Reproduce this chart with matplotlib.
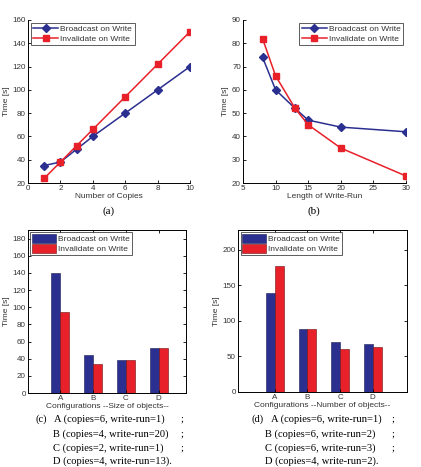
import matplotlib
matplotlib.use("Agg")
import matplotlib.pyplot as plt
import numpy as np

# ---- data ----
copies = [1, 2, 3, 4, 6, 8, 10]
bcast_copies = [35, 38, 49, 60, 80, 100, 120]
inval_copies = [24, 38, 52, 66, 94, 122, 150]

writerun = [8, 10, 13, 15, 20, 30]
bcast_wr = [74, 60, 52, 47, 44, 42]
inval_wr = [82, 66, 52, 45, 35, 23]

configs = ["A", "B", "C", "D"]
bcast_size = [140, 44, 38, 52]
inval_size = [94, 34, 38, 52]
bcast_num = [140, 89, 71, 67]
inval_num = [178, 89, 60, 63]

series_names = ["Broadcast on Write", "Invalidate on Write"]
captions_c = ["A (copies=6, write-run=1)", "B (copies=4, write-run=20)",
              "C (copies=2, write-run=1)", "D (copies=4, write-run=13)."]
captions_d = ["A (copies=6, write-run=1)", "B (copies=6, write-run=2)",
              "C (copies=6, write-run=3)", "D (copies=4, write-run=2)."]

BLUE = "#2b2f8f"
RED = "#e8202a"
SANS = "Liberation Sans"
SERIF = "Liberation Serif"
W, H = 421, 467
TXT = "#333333"

fig = plt.figure(figsize=(W / 100, H / 100), dpi=100)
fig.patch.set_facecolor("white")


def add_ax(l, r, t, b):
    return fig.add_axes([l / W, (H - b) / H, (r - l) / W, (b - t) / H])


TICK_FS = 5.8
LAB_FS = 6.0
LEG_FS = 6.0


def style_ticks(ax):
    for lab in ax.get_xticklabels() + ax.get_yticklabels():
        lab.set_fontfamily(SANS)
        lab.set_fontsize(TICK_FS)
        lab.set_color(TXT)


def style_legend(leg):
    leg.get_frame().set_edgecolor(TXT)
    leg.get_frame().set_linewidth(0.7)
    for t in leg.get_texts():
        t.set_color(TXT)


# (a)
axa = add_ax(28, 190, 20, 183)
axa.plot(copies, bcast_copies, color=BLUE, marker="D", ms=4.5, lw=1.1, label=series_names[0])
axa.plot(copies, inval_copies, color=RED, marker="s", ms=4.5, lw=1.1, label=series_names[1])
axa.set_xlim(0, 10)
axa.set_ylim(20, 160)
axa.set_xticks([0, 2, 4, 6, 8, 10])
axa.set_yticks(range(20, 161, 20))
axa.set_xlabel("Number of Copies", fontfamily=SANS, fontsize=LAB_FS, labelpad=1, color=TXT)
axa.set_ylabel("Time [s]", fontfamily=SANS, fontsize=LAB_FS, labelpad=2, color=TXT)

# (b)
axb = add_ax(243, 406, 20, 183)
axb.plot(writerun, bcast_wr, color=BLUE, marker="D", ms=4.5, lw=1.1, label=series_names[0])
axb.plot(writerun, inval_wr, color=RED, marker="s", ms=4.5, lw=1.1, label=series_names[1])
axb.set_xlim(5, 30)
axb.set_ylim(20, 90)
axb.set_xticks([5, 10, 15, 20, 25, 30])
axb.set_yticks(range(20, 91, 10))
axb.set_xlabel("Length of Write-Run", fontfamily=SANS, fontsize=LAB_FS, labelpad=1, color=TXT)
axb.set_ylabel("Time [s]", fontfamily=SANS, fontsize=LAB_FS, labelpad=2, color=TXT)

for ax, loc in ((axa, "upper left"), (axb, "upper right")):
    for s in ("top", "right"):
        ax.spines[s].set_visible(False)
    for s in ("left", "bottom"):
        ax.spines[s].set_linewidth(0.7)
    ax.tick_params(direction="in", length=2.5, width=0.6, pad=1.5)
    style_ticks(ax)
    leg = ax.legend(loc=loc, prop={"family": SANS, "size": LEG_FS}, frameon=True,
                    fancybox=False, borderpad=0.3, handlelength=3.0, handletextpad=0.25,
                    labelspacing=0.2, borderaxespad=0.35)
    style_legend(leg)

fig.text(109 / W, 1 - 211 / H, "(a)", fontfamily=SERIF, fontsize=8, ha="center", va="center")
fig.text(314 / W, 1 - 211 / H, "(b)", fontfamily=SERIF, fontsize=8, ha="center", va="center")

# (c) and (d)
axc = add_ax(28, 186, 230, 393)
axd = add_ax(238, 407, 230, 392)
x = np.arange(1, len(configs) + 1)
bw = 0.27
for ax, b, r, ylim, yt, xl, xlab in (
        (axc, bcast_size, inval_size, 190, range(0, 181, 20), (0.02, 4.83),
         "Configurations --Size of objects--"),
        (axd, bcast_num, inval_num, 228, range(0, 201, 50), (-0.13, 5.05),
         "Configurations --Number of objects--")):
    ax.bar(x - bw / 2, b, bw, color=BLUE, edgecolor="#1a1a50", lw=0.4, label=series_names[0])
    ax.bar(x + bw / 2, r, bw, color=RED, edgecolor="#6a1010", lw=0.4, label=series_names[1])
    ax.set_ylim(0, ylim)
    ax.set_xlim(*xl)
    ax.set_yticks(list(yt))
    ax.set_xticks(x)
    ax.set_xticklabels(configs)
    ax.tick_params(direction="in", length=2.5, width=0.6, pad=1.5, right=True, top=True)
    for s in ax.spines.values():
        s.set_linewidth(0.7)
    style_ticks(ax)
    ax.set_xlabel(xlab, fontfamily=SANS, fontsize=LAB_FS, labelpad=0.5, color=TXT)
    ax.set_ylabel("Time [s]", fontfamily=SANS, fontsize=LAB_FS, labelpad=2, color=TXT)
    leg = ax.legend(loc="upper left", prop={"family": SANS, "size": LEG_FS}, frameon=True,
                    fancybox=False, borderpad=0.2, handlelength=2.9, handleheight=1.2,
                    handletextpad=0.25, labelspacing=0.1, borderaxespad=0.3)
    style_legend(leg)

CAP_FS = 7.6
line_y = [419, 434, 448, 461]
fig.text(35 / W, 1 - line_y[0] / H, "(c)", fontfamily=SERIF, fontsize=CAP_FS, va="center")
fig.text(252 / W, 1 - line_y[0] / H, "(d)", fontfamily=SERIF, fontsize=CAP_FS, va="center")
for i, (tc, td) in enumerate(zip(captions_c, captions_d)):
    xc = 53 if i else 54
    xd = 265 if i else 271
    fig.text(xc / W, 1 - line_y[i] / H, tc, fontfamily=SERIF, fontsize=CAP_FS, va="center")
    fig.text(xd / W, 1 - line_y[i] / H, td, fontfamily=SERIF, fontsize=CAP_FS, va="center")
    if i < 3:
        fig.text(180 / W, 1 - line_y[i] / H, ";", fontfamily=SERIF, fontsize=CAP_FS, va="center")
        fig.text(391 / W, 1 - line_y[i] / H, ";", fontfamily=SERIF, fontsize=CAP_FS, va="center")

fig.savefig("out.png", dpi=100)
